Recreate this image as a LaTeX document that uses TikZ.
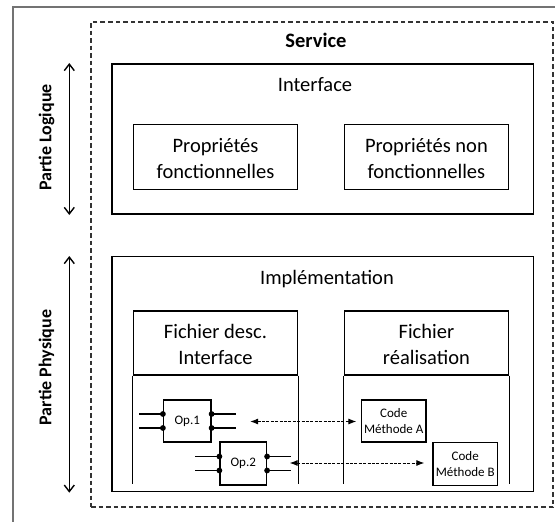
\documentclass[tikz,border=0pt]{standalone}
\usepackage{fontspec}
\setmainfont{Carlito}
\usetikzlibrary{arrows.meta,calc}
\tikzset{
  box/.style={draw,line width=1.2pt,inner sep=0pt},
  svcbox/.style={draw=black!80,line width=1.1pt,dash pattern=on 4.5pt off 3pt,inner sep=0pt},
  frameline/.style={draw=black!55,line width=1.8pt},
  bigtxt/.style={font=\fontsize{20.5}{26}\selectfont,align=center,inner sep=0pt},
  smalltxt/.style={font=\fontsize{13}{16.5}\selectfont,align=center,inner sep=0pt},
  sidetxt/.style={font=\bfseries\fontsize{18}{20}\selectfont,rotate=90,inner sep=0pt},
  span/.style={line width=1.4pt,{Straight Barb[length=6.5pt,width=10pt]}-{Straight Barb[length=6.5pt,width=10pt]}},
  link/.style={line width=1pt,dash pattern=on 3pt off 1.4pt,{Latex[length=8pt,width=6pt]}-{Latex[length=8pt,width=6pt]}},
  pinline/.style={line width=1.2pt},
  pindot/.style={circle,fill,inner sep=0pt,minimum size=5.8pt}
}
\begin{document}
\begin{tikzpicture}[x=1pt,y=-1pt]
\useasboundingbox (0,0) rectangle (555,522);
\clip (0,0) rectangle (555,522);
\fill[white] (0,0) rectangle (555,522);
% outer gray frame (extends beyond the picture)
\node[frameline,minimum width=600pt,minimum height=560pt,anchor=north west] (frame) at (12,6) {};
% service (dashed)
\node[svcbox,minimum width=462pt,minimum height=485pt] (svc) at (322,264.5) {};
\node[font=\bfseries\fontsize{20.5}{24}\selectfont,anchor=base,inner sep=0pt] (svct) at (316,47.7) {Service};
% interface
\node[box,minimum width=421.5pt,minimum height=150pt] (intf) at (322.75,139) {};
\node[bigtxt,anchor=base] (intft) at (315,91) {Interface};
\node[box,minimum width=164.4pt,minimum height=65pt] (prop1) at (215.5,156.8) {};
\node[box,minimum width=164.2pt,minimum height=65pt] (prop2) at (426.4,156.8) {};
\node[bigtxt,yshift=-1.5pt] (prop1t) at (prop1) {Propriétés\\fonctionnelles};
\node[bigtxt,yshift=-1.5pt] (prop2t) at (prop2) {Propriétés non\\fonctionnelles};
% implementation
\node[box,minimum width=421.3pt,minimum height=234.8pt] (impl) at (322.65,374.1) {};
\node[bigtxt,anchor=base] (implt) at (327,284.3) {Implémentation};
\node[box,minimum width=164.4pt,minimum height=64pt] (fd) at (215.5,343) {};
\node[box,minimum width=164.2pt,minimum height=64pt] (fr) at (426.4,343) {};
\node[bigtxt,yshift=-1.8pt] (fdt) at (fd) {Fichier desc.\\Interface};
\node[bigtxt,yshift=-1.8pt] (frt) at (fr) {Fichier\\réalisation};
\draw[pinline] (fd.south west) -- ++(0,108);
\draw[pinline] (fd.south east) -- ++(0,108);
\draw[pinline] (fr.south west) -- ++(0,108);
\draw[pinline] (fr.south east) -- ++(0,108);
% operations
\node[box,minimum width=47.5pt,minimum height=42pt] (op1) at (187.25,421) {};
\node[box,minimum width=46.5pt,minimum height=43pt,fill=white] (op2) at (243.25,463.5) {};
\node[smalltxt] (op1t) at (op1) {Op.1};
\node[smalltxt] (op2t) at (op2) {Op.2};
\foreach \n in {op1,op2}{
  \foreach \s/\k in {-7/u,7/l}{
    \coordinate (\n-w\k) at ($(\n.west)+(0,\s)$);
    \coordinate (\n-e\k) at ($(\n.east)+(0,\s)$);
    \draw[pinline] (\n-w\k) -- ++(-24,0);
    \draw[pinline] (\n-e\k) -- ++(24,0);
    \node[pindot] (\n-dw\k) at (\n-w\k) {};
    \node[pindot] (\n-de\k) at (\n-e\k) {};
  }
}
% code boxes
\node[box,minimum width=64.5pt,minimum height=42pt] (codeA) at (393.75,421) {};
\node[box,minimum width=64.5pt,minimum height=43pt] (codeB) at (465.25,464) {};
\node[smalltxt] (codeAt) at (codeA) {Code\\Méthode A};
\node[smalltxt] (codeBt) at (codeB) {Code\\Méthode B};
% links
\coordinate (a1) at ($(op1.east)+(38.5,0.5)$);
\coordinate (a2) at ($(op2.east)+(22.5,-0.5)$);
\draw[link,shorten >=4.5pt] (a1) -- (codeA.west |- a1);
\draw[link,shorten >=8pt] (a2) -- (codeB.west |- a2);
% side arrows and labels
\coordinate (lt) at (69.3,63);
\coordinate (lb) at (69.3,215);
\coordinate (pt) at (69.3,256);
\coordinate (pb) at (69.3,492.7);
\draw[span] (lt) -- (lb);
\draw[span] (pt) -- (pb);
\node[sidetxt,anchor=base] (logt) at (51.3,137.5) {Partie Logique};
\node[sidetxt,anchor=base] (phyt) at (51.3,367.5) {Partie Physique};
\end{tikzpicture}
\end{document}
